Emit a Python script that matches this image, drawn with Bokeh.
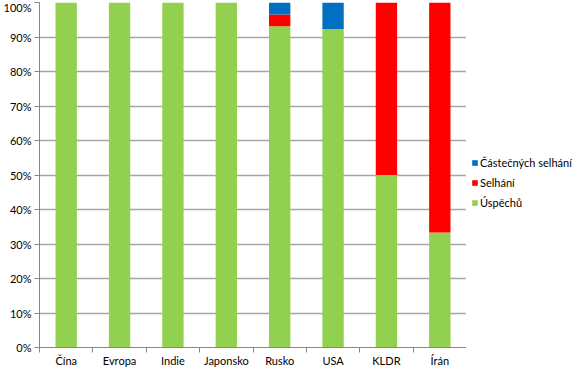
from bokeh.plotting import figure
from bokeh.layouts import row
from bokeh.models import (ColumnDataSource, FixedTicker, NumeralTickFormatter,
                          Legend, LegendItem, Range1d)
from bokeh.embed import file_html
from bokeh.resources import INLINE

categories = ["Čína", "Evropa", "Indie", "Japonsko", "Rusko", "USA", "KLDR", "Írán"]
uspechu = [1.0, 1.0, 1.0, 1.0, 0.931, 0.923, 0.50, 0.333]
selhani = [0.0, 0.0, 0.0, 0.0, 0.0345, 0.0, 0.50, 0.667]
castecnych = [0.0, 0.0, 0.0, 0.0, 0.0345, 0.077, 0.0, 0.0]
series_names = ["Úspěchů", "Selhání", "Částečných selhání"]
series_colors = ["#92d050", "#ff0000", "#0070c0"]
y_ticks = [0.0, 0.1, 0.2, 0.3, 0.4, 0.5, 0.6, 0.7, 0.8, 0.9, 1.0]

n = len(categories)
xs = [i + 0.5 for i in range(n)]
source = ColumnDataSource(dict(x=xs, s0=uspechu, s1=selhani, s2=castecnych))

FONT = "Lato"
H = 369
p = figure(width=466, height=H, output_backend="svg", toolbar_location=None,
           x_range=Range1d(0, n), y_range=Range1d(0, 1.0),
           min_border_top=2, min_border_left=0, min_border_right=0,
           min_border_bottom=0)
p.outline_line_color = None
p.background_fill_color = "white"
p.border_fill_color = "white"

renderers = p.vbar_stack(["s0", "s1", "s2"], x="x", width=0.4, color=series_colors,
                         line_width=0, source=source)

# y axis
p.yaxis.ticker = FixedTicker(ticks=y_ticks)
p.yaxis.formatter = NumeralTickFormatter(format="0%")
p.yaxis.axis_line_color = "#868686"
p.yaxis.major_tick_line_color = "#868686"
p.yaxis.major_tick_in = 0
p.yaxis.major_tick_out = 5
p.yaxis.minor_tick_line_color = None
p.yaxis.major_label_text_font = FONT
p.yaxis.major_label_text_font_size = "11px"
p.yaxis.major_label_text_color = "#000000"
p.yaxis.major_label_standoff = 3

# x axis: labels at centers, tick marks at category boundaries (minor ticks)
p.xaxis.ticker = FixedTicker(ticks=xs, minor_ticks=list(range(n + 1)))
p.xaxis.major_label_overrides = {x: c for x, c in zip(xs, categories)}
p.xaxis.axis_line_color = "#868686"
p.xaxis.major_tick_line_color = None
p.xaxis.minor_tick_line_color = "#868686"
p.xaxis.minor_tick_in = 0
p.xaxis.minor_tick_out = 5
p.xaxis.major_label_text_font = FONT
p.xaxis.major_label_text_font_size = "11px"
p.xaxis.major_label_text_color = "#000000"
p.xaxis.major_label_standoff = 0

p.xgrid.grid_line_color = None
p.ygrid.grid_line_color = "#a6a6a6"
p.ygrid.grid_line_width = 1.5

# legend-only figure to the right of the plot (its glyphs are hidden; the
# legend shows their swatches)
lf = figure(width=113, height=H, output_backend="svg", toolbar_location=None,
            x_range=Range1d(0, 1), y_range=Range1d(0, 1),
            min_border=0)
lf.axis.visible = False
lf.grid.grid_line_color = None
lf.outline_line_color = None
lf.border_fill_color = "white"
legend_renderers = lf.vbar_stack(["s0", "s1", "s2"], x="x", width=0.4,
                                 color=series_colors, line_width=0, source=source)
for r in legend_renderers:
    r.visible = False

items = [LegendItem(label=series_names[i], renderers=[legend_renderers[i]])
         for i in (2, 1, 0)]
legend = Legend(items=items, location=(5, 138),
                border_line_color=None, background_fill_alpha=0,
                inactive_fill_alpha=0,
                glyph_width=7, glyph_height=7, label_standoff=2, spacing=7,
                label_height=12, padding=5, margin=0,
                label_text_font=FONT, label_text_font_size="11px",
                label_text_color="#000000")
lf.add_layout(legend, "center")

layout = row(p, lf)
open("out.html", "w").write(file_html(layout, INLINE))
